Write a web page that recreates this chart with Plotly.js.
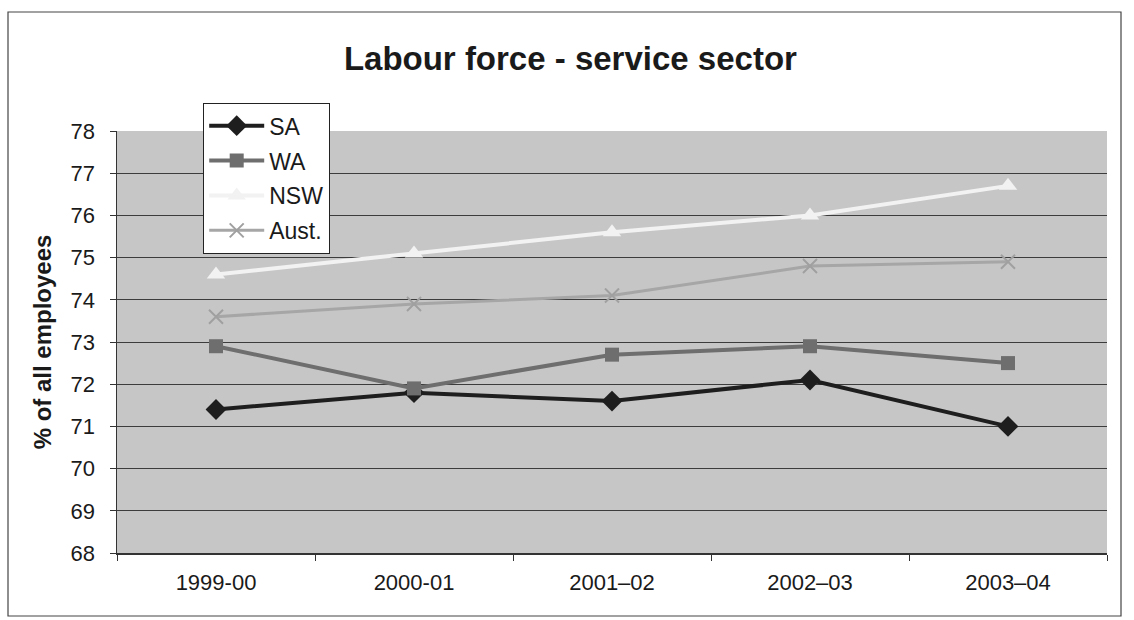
<!DOCTYPE html>
<html>
<head>
<meta charset="utf-8">
<script src="https://cdn.plot.ly/plotly-3.0.1.min.js"></script>
<style>
html,body{margin:0;padding:0;background:#fff;}
#chart{width:1134px;height:620px;}
</style>
</head>
<body>
<div id="chart"></div>
<script>
const categories = ["1999-00", "2000-01", "2001\u201302", "2002\u201303", "2003\u201304"];
const saValues   = [71.4, 71.8, 71.6, 72.1, 71.0];
const waValues   = [72.9, 71.9, 72.7, 72.9, 72.5];
const nswValues  = [74.6, 75.1, 75.6, 76.0, 76.7];
const austValues = [73.6, 73.9, 74.1, 74.8, 74.9];
const yTicks = [68, 69, 70, 71, 72, 73, 74, 75, 76, 77, 78];

const W = 1134, H = 620;
const m = {l: 117, r: 27, t: 131, b: 67};
const pw = W - m.l - m.r, ph = H - m.t - m.b;
function px(x){ return (x - m.l) / pw; }
function py(y){ return (H - m.b - y) / ph; }

const traces = [
  {name: "SA", legendgroup: "a", x: categories, y: saValues, type: "scatter", mode: "lines+markers",
   line: {color: "#1e1e1e", width: 4},
   marker: {symbol: "diamond", size: 16, color: "#1e1e1e"}},
  {name: "WA", legendgroup: "b", x: categories, y: waValues, type: "scatter", mode: "lines+markers",
   line: {color: "#6e6e6e", width: 4},
   marker: {symbol: "square", size: 14, color: "#6e6e6e"}},
  {name: "NSW", legendgroup: "c", x: categories, y: nswValues, type: "scatter", mode: "lines+markers",
   line: {color: "#f2f2f2", width: 4},
   marker: {symbol: "triangle-up", size: 16, color: "#f2f2f2"}},
  {name: "Aust.", legendgroup: "d", x: categories, y: austValues, type: "scatter", mode: "lines+markers",
   line: {color: "#a6a6a6", width: 3},
   marker: {symbol: "x-thin", size: 14, line: {color: "#a0a0a0", width: 2}, color: "#a0a0a0"}}
];

const layout = {
  width: W, height: H,
  margin: m,
  paper_bgcolor: "#ffffff",
  plot_bgcolor: "#c6c6c6",
  font: {family: "Liberation Sans, Arial, sans-serif", color: "#1a1a1a", size: 22},
  title: {text: "<b>Labour force - service sector</b>", font: {size: 33, color: "#1a1a1a"},
          x: 0.503, xref: "container", y: 1 - 58 / H, yref: "container", yanchor: "middle"},
  xaxis: {type: "category", range: [-0.5, 4.5], tickson: "boundaries", ticks: "outside",
          ticklen: 6, tickcolor: "#333", showline: true, linecolor: "#333", linewidth: 1.5,
          showgrid: false, zeroline: false, ticklabelstandoff: 9,
          tickfont: {size: 22}, fixedrange: true},
  yaxis: {range: [68, 78], tickvals: yTicks, ticks: "outside", ticklen: 6, tickcolor: "#333",
          showline: true, linecolor: "#333", linewidth: 1.5,
          gridcolor: "#3c3c3c", gridwidth: 1, zeroline: false, ticklabelstandoff: 10,
          tickfont: {size: 22},
          title: {text: "<b>% of all employees</b>", font: {size: 24}, standoff: 12}},
  legend: {x: px(203), y: py(103), xanchor: "left", yanchor: "top",
           bgcolor: "#ffffff", bordercolor: "#222", borderwidth: 1.2, traceorder: "grouped",
           font: {size: 23, color: "#1a1a1a"}, itemwidth: 55, tracegroupgap: 2},
  showlegend: true,
  shapes: [
    {type: "rect", xref: "paper", yref: "paper",
     x0: px(8), x1: px(1121), y0: py(616), y1: py(12),
     line: {color: "#444", width: 1.2}, fillcolor: "rgba(0,0,0,0)", layer: "below"}
  ]
};

Plotly.newPlot("chart", traces, layout, {displayModeBar: false, staticPlot: true});
</script>
</body>
</html>
